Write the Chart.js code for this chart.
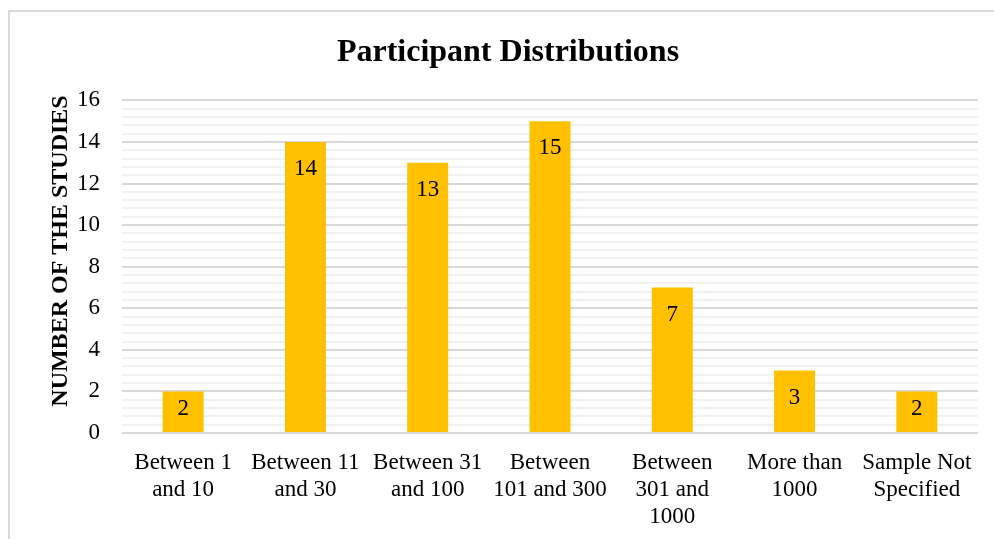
<!DOCTYPE html>
<html>
<head>
<meta charset="utf-8">
<script src="https://cdn.jsdelivr.net/npm/chart.js@4.4.1/dist/chart.umd.min.js"></script>
<style>
  html, body { margin: 0; padding: 0; background: #fff; }
  #frame { position: absolute; left: 8px; top: 10px; width: 1000px; height: 540px; border: 2px solid #d9d9d9; box-sizing: border-box; }
  #wrap { position: absolute; left: 0; top: 0; width: 994px; height: 539px; }
</style>
</head>
<body>
<div id="frame"></div>
<div id="wrap"><canvas id="chart"></canvas></div>
<script>
// ── Data ───────────────────────────────────────────────────────────────
const categories = [
  ['Between 1', 'and 10'],
  ['Between 11', 'and 30'],
  ['Between 31', 'and 100'],
  ['Between', '101 and 300'],
  ['Between', '301 and', '1000'],
  ['More than', '1000'],
  ['Sample Not', 'Specified'],
];
const studies = [2, 14, 13, 15, 7, 3, 2];
const yTicks  = [0, 2, 4, 6, 8, 10, 12, 14, 16];
const yTitle  = 'NUMBER OF THE STUDIES';

const FONT = '"Liberation Serif", "Times New Roman", serif';

const isMajor = v => yTicks.some(t => Math.abs(t - v) < 1e-6);

// value labels just inside the bar top
const barLabels = {
  id: 'barLabels',
  afterDatasetsDraw(chart) {
    const { ctx } = chart;
    const meta = chart.getDatasetMeta(0);
    ctx.save();
    ctx.font = `23px ${FONT}`;
    ctx.fillStyle = '#000';
    ctx.textAlign = 'center';
    ctx.textBaseline = 'middle';
    meta.data.forEach((bar, i) => {
      const y = Math.min(bar.y + 27, (bar.y + bar.base) / 2 - 3);
      ctx.fillText(String(studies[i]), bar.x, y);
    });
    ctx.restore();
  },
};

// rotated y-axis title
const yAxisTitle = {
  id: 'yAxisTitle',
  afterDraw(chart) {
    const { ctx } = chart;
    ctx.save();
    ctx.translate(61, 251);
    ctx.rotate(-Math.PI / 2);
    ctx.font = `bold 24px ${FONT}`;
    ctx.fillStyle = '#000';
    ctx.textAlign = 'center';
    ctx.textBaseline = 'middle';
    ctx.fillText(yTitle, 0, 0);
    ctx.restore();
  },
};

new Chart(document.getElementById('chart'), {
  type: 'bar',
  data: {
    labels: categories,
    datasets: [{
      label: 'Number of studies',
      data: studies,
      backgroundColor: '#FFC000',
      borderWidth: 0,
      categoryPercentage: 0.67,
      barPercentage: 0.5,
    }],
  },
  options: {
    responsive: true,
    maintainAspectRatio: false,
    animation: false,
    layout: { padding: { left: 38, right: 16, top: 0, bottom: -8 } },
    plugins: {
      legend: { display: false },
      tooltip: { enabled: false },
      title: {
        display: true,
        text: 'Participant Distributions',
        color: '#000',
        font: { family: FONT, size: 32, weight: 'bold' },
        padding: { top: 34, bottom: 28 },
      },
    },
    scales: {
      x: {
        grid: { display: false, drawTicks: false },
        border: { display: false },
        ticks: {
          color: '#000',
          font: { family: FONT, size: 23, lineHeight: 1.16 },
          padding: 17,
          maxRotation: 0,
          autoSkip: false,
        },
      },
      y: {
        min: 0,
        max: 16,
        border: { display: false },
        afterFit: scale => { scale.width = 84; },
        grid: {
          drawTicks: false,
          color: ctx => isMajor(ctx.tick.value) ? '#d9d9d9' : '#f2f2f2',
          lineWidth: 2,
        },
        ticks: {
          stepSize: 0.4,
          autoSkip: false,
          color: '#000',
          font: { family: FONT, size: 23 },
          padding: 22,
          callback: v => isMajor(v) ? Math.round(v) : '',
        },
      },
    },
  },
  plugins: [barLabels, yAxisTitle],
});
</script>
</body>
</html>
